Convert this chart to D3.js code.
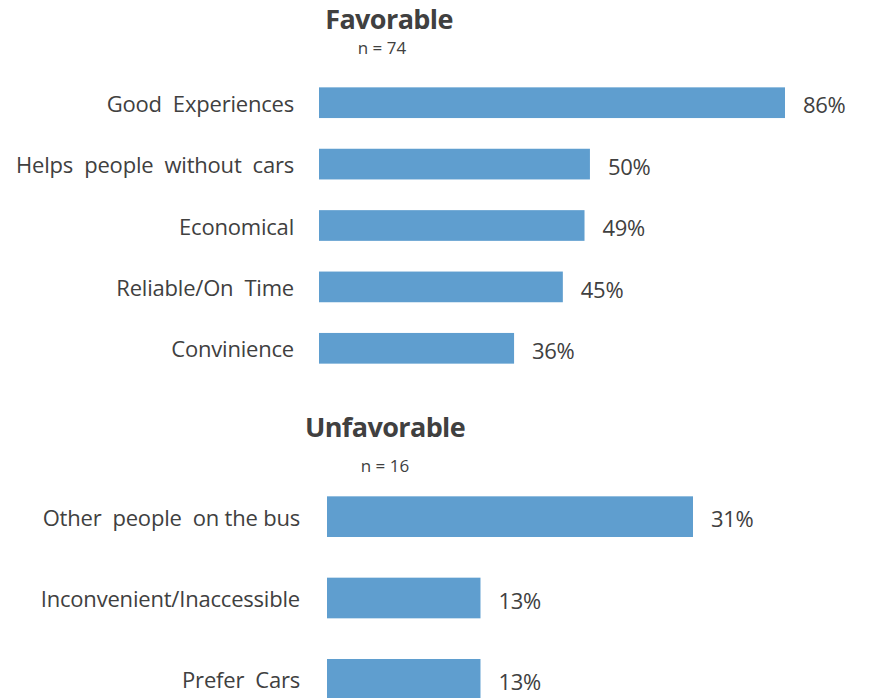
<!DOCTYPE html>
<html>
<head>
<meta charset="utf-8">
<script src="https://cdn.jsdelivr.net/npm/d3@7"></script>
<style>
  body { margin: 0; background: #fff; }
  svg text { font-family: "Open Sans", sans-serif; fill: #404040; }
</style>
</head>
<body>
<svg id="chart" width="874" height="698"></svg>
<script>
// Favorable reasons (n = 74)
const favCategories = ["Good  Experiences", "Helps  people  without  cars", "Economical", "Reliable/On  Time", "Convinience"];
const favValues = [86, 50, 49, 45, 36];
const favTitle = "Favorable";
const favN = "n = 74";

// Unfavorable reasons (n = 16)
const unfavCategories = ["Other  people  on the bus", "Inconvenient/Inaccessible", "Prefer  Cars"];
const unfavValues = [31, 13, 13];
const unfavTitle = "Unfavorable";
const unfavN = "n = 16";

const svg = d3.select("#chart");
const barColor = "#5f9ecf";
const fmt = v => v + "%";

function panel(cfg) {
  const g = svg.append("g");
  const x = d3.scaleLinear().domain([0, cfg.maxVal]).range([cfg.x0, cfg.x1]);
  const y = d3.scaleBand().domain(cfg.categories).range([cfg.y0, cfg.y1]).paddingInner(cfg.pad).paddingOuter(cfg.pad / 2);

  g.append("text")
    .attr("x", cfg.titleX).attr("y", cfg.titleY)
    .attr("text-anchor", "middle")
    .style("font-weight", "bold").style("font-size", "27px")
    .style("letter-spacing", "-0.6px")
    .text(cfg.title);
  g.append("text")
    .attr("x", cfg.nX).attr("y", cfg.nY)
    .attr("text-anchor", "middle")
    .style("font-size", "17px")
    .text(cfg.n);

  const data = cfg.categories.map((c, i) => ({ c, v: cfg.values[i] }));

  g.selectAll("rect").data(data).join("rect")
    .attr("x", x(0))
    .attr("y", d => y(d.c))
    .attr("width", d => x(d.v) - x(0))
    .attr("height", y.bandwidth())
    .attr("fill", barColor);

  // category axis on the left, without line or ticks
  const axis = g.append("g")
    .attr("transform", `translate(${x(0) - cfg.labelGap},2)`)
    .call(d3.axisLeft(y).tickSize(0).tickPadding(0));
  axis.select(".domain").remove();
  axis.selectAll("text")
    .style("font-size", "22px")
    .style("white-space", "pre")
    .style("letter-spacing", "-0.2px")
    .attr("fill", "#404040");

  g.selectAll("text.val").data(data).join("text")
    .attr("class", "val")
    .attr("x", d => x(d.v) + cfg.valGap)
    .attr("y", d => y(d.c) + y.bandwidth() / 2 + 3)
    .attr("dy", "0.35em")
    .style("font-size", "22px")
    .style("letter-spacing", "-0.3px")
    .text(d => fmt(d.v));
}

panel({
  categories: favCategories, values: favValues, maxVal: 86,
  x0: 319, x1: 785, y0: 72, y1: 379, pad: 0.5,
  title: favTitle, titleX: 389, titleY: 29, n: favN, nX: 382, nY: 54,
  labelGap: 25, valGap: 18
});

panel({
  categories: unfavCategories, values: unfavValues, maxVal: 31,
  x0: 327, x1: 693, y0: 476, y1: 720, pad: 0.5,
  title: unfavTitle, titleX: 385, titleY: 437, n: unfavN, nX: 385, nY: 472,
  labelGap: 27, valGap: 18
});
</script>
</body>
</html>
